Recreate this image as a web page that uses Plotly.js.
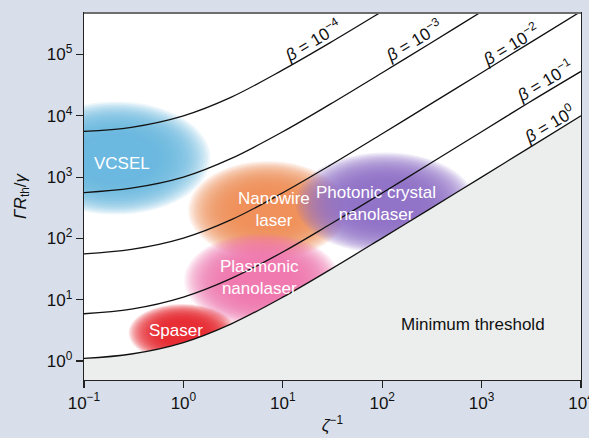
<!DOCTYPE html>
<html><head><meta charset="utf-8">
<script src="https://cdn.plot.ly/plotly-3.0.1.min.js"></script>
<style>html,body{margin:0;padding:0;background:#d8dfea}#chart{width:589px;height:438px}</style>
</head><body><div id="chart"></div>
<script>
// zeta^-1 sample positions
const zetaInv = [0.1, 0.3, 1, 3, 10, 30, 100, 300, 1000, 3000, 10000];
// Gamma R_th / gamma
const beta1e0  = [1.1, 1.3, 2, 4, 11, 31, 101, 300, 1000, 3000, 10000];
const beta1em1 = [5.9, 7, 11, 22, 60, 170, 550, 1650, 5500, 16500, 53000];
const beta1em2 = [56, 66, 101, 200, 555, 1560, 5100, 15200, 50500, 152000, 505000];
const beta1em3 = [560, 660, 1000, 2000, 5500, 15500, 50500, 150000, 500000, 1500000, 5000000];
const beta1em4 = [5550, 6500, 10000, 20000, 56000, 156000, 505000, 1500000, 5000000, 15000000, 50000000];

const xTickVals = [0.1, 1, 10, 100, 1000, 10000];
const xTickText = ['10<sup>−1</sup>', '10<sup>0</sup>', '10<sup>1</sup>', '10<sup>2</sup>', '10<sup>3</sup>', '10<sup>4</sup>'];
const yTickVals = [1, 10, 100, 1000, 10000, 100000];
const yTickText = ['10<sup>0</sup>', '10<sup>1</sup>', '10<sup>2</sup>', '10<sup>3</sup>', '10<sup>4</sup>', '10<sup>5</sup>'];

const betaLabels = ['<i>β</i> = 10<sup>−4</sup>', '<i>β</i> = 10<sup>−3</sup>', '<i>β</i> = 10<sup>−2</sup>', '<i>β</i> = 10<sup>−1</sup>', '<i>β</i> = 10<sup>0</sup>'];
const regionNames = ['VCSEL', 'Nanowire<br>laser', 'Photonic crystal<br>nanolaser', 'Plasmonic<br>nanolaser', 'Spaser'];

const lineStyle = {color: '#111', width: 1.3, shape: 'spline', smoothing: 1};
const traces = [
  {x: zetaInv, y: beta1e0, mode: 'lines', line: lineStyle, fill: 'tozeroy', fillcolor: '#eceeee', hoverinfo: 'skip'},
  {x: zetaInv, y: beta1em1, mode: 'lines', line: lineStyle, hoverinfo: 'skip'},
  {x: zetaInv, y: beta1em2, mode: 'lines', line: lineStyle, hoverinfo: 'skip'},
  {x: zetaInv, y: beta1em3, mode: 'lines', line: lineStyle, hoverinfo: 'skip'},
  {x: zetaInv, y: beta1em4, mode: 'lines', line: lineStyle, hoverinfo: 'skip'}
];

// soft coloured regions (decoration): centre / radius in decades
const blobs = [
  {cx: -0.68, cy: 3.31, rx: 0.95, ry: 0.92, color: '100,186,224'},
  {cx: 0.85, cy: 2.46, rx: 0.80, ry: 0.80, color: '243,140,88'},
  {cx: 0.79, cy: 1.32, rx: 0.78, ry: 0.76, color: '238,118,176'},
  {cx: 2.03, cy: 2.58, rx: 0.90, ry: 0.82, color: '140,110,196'},
  {cx: -0.01, cy: 0.46, rx: 0.54, ry: 0.47, color: '232,36,44'}
];
const shapes = [];
const N = 24;
blobs.forEach(b => {
  for (let k = 0; k < N; k++) {
    const s = 1 - 0.6 * k / (N - 1);
    shapes.push({type: 'circle', xref: 'x', yref: 'y', layer: 'below',
      x0: Math.pow(10, b.cx - b.rx * s), x1: Math.pow(10, b.cx + b.rx * s),
      y0: Math.pow(10, b.cy - b.ry * s), y1: Math.pow(10, b.cy + b.ry * s),
      fillcolor: 'rgba(' + b.color + ',0.125)', line: {width: 0}});
  }
});
shapes.push({type: 'line', xref: 'paper', yref: 'paper', x0: 0, x1: 1, y0: 1, y1: 1, line: {color: '#6e6e6e', width: 2}});

const ann = [];
const betaPos = [[1.296, 5.237], [2.313, 5.237], [3.290, 5.171], [3.632, 4.584], [3.683, 3.883]];
betaLabels.forEach((t, i) => ann.push({x: betaPos[i][0], y: betaPos[i][1], xref: 'x', yref: 'y', text: t,
  showarrow: false, textangle: -31, font: {size: 17, color: '#111'}}));
const regionPos = [[-0.617, 3.23], [0.91, 2.47], [1.94, 2.57], [0.77, 1.37], [-0.07, 0.50]];
regionNames.forEach((t, i) => ann.push({x: regionPos[i][0], y: regionPos[i][1], xref: 'x', yref: 'y', text: t,
  showarrow: false, font: {size: 17, color: '#ffffff'}}));
ann.push({x: 2.917, y: 0.60, xref: 'x', yref: 'y', text: 'Minimum threshold', showarrow: false, font: {size: 17, color: '#111'}});

const axisCommon = {type: 'log', tickmode: 'array', ticks: 'outside', ticklen: 7, tickwidth: 1.2, tickcolor: '#222',
  showline: true, linecolor: '#222', linewidth: 1.2, mirror: true, showgrid: false, zeroline: false,
  ticklabeloverflow: 'allow', tickfont: {size: 17, color: '#111'}};

const layout = {
  width: 589, height: 438,
  paper_bgcolor: '#d8dfea', plot_bgcolor: '#ffffff',
  margin: {l: 84, r: 8, t: 13, b: 58},
  showlegend: false,
  font: {family: 'Liberation Sans, Arial, sans-serif', size: 17, color: '#111'},
  xaxis: Object.assign({}, axisCommon, {range: [-1, 4], tickvals: xTickVals, ticktext: xTickText,
    title: {text: '<i>ζ</i><sup>−1</sup>', font: {size: 17}, standoff: 7}}),
  yaxis: Object.assign({}, axisCommon, {range: [-0.31, 5.677], tickvals: yTickVals, ticktext: yTickText,
    title: {text: '<i>ΓR</i><sub>th</sub>/<i>γ</i>', font: {size: 17}, standoff: 16}}),
  shapes: shapes,
  annotations: ann
};

Plotly.newPlot('chart', traces, layout, {staticPlot: true, displayModeBar: false});
</script></body></html>
